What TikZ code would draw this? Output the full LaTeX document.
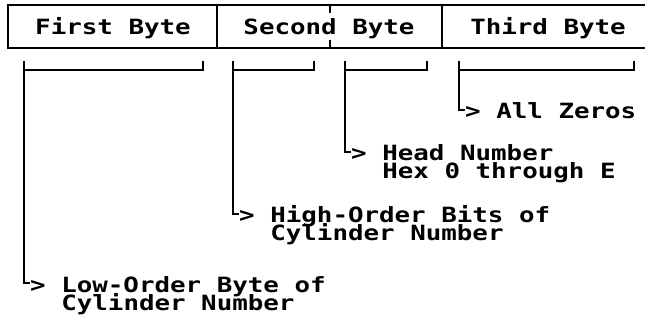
\documentclass[tikz,border=0pt]{standalone}
\usepackage{fontspec}
\newfontfamily\scrfont[FakeStretch=1.23]{DejaVu Sans Mono}
\newcommand\mytightlines{\lineskiplimit=-30pt\relax\lineskip=0pt\relax}
\begin{document}
\begin{tikzpicture}[x=1pt,y=-1pt,
  ln/.style={line width=1.8pt},
  txt/.style={font=\scrfont\bfseries\fontsize{21}{18}\selectfont\mytightlines, inner sep=0pt, align=left},
]
\useasboundingbox (0,0) rectangle (645,320);
% field box
\draw[ln] (646,5) -- (8,5) -- (8,48) -- (646,48);
\draw[ln] (217,5) -- (217,48);
\draw[ln] (442,5) -- (442,48);
\draw[ln] (330,5) -- (330,13);
\draw[ln] (330,40) -- (330,48);
\node[txt, anchor=base] (f1) at (113,35) {First Byte};
\node[txt, anchor=base] (f2) at (329,35) {Second Byte};
\node[txt, anchor=base] (f3) at (548,35) {Third Byte};
% brackets
\coordinate (a1) at (24,61);  \coordinate (r1) at (203,61);
\coordinate (a2) at (233,61); \coordinate (r2) at (314,61);
\coordinate (a3) at (345,61); \coordinate (r3) at (427,61);
\coordinate (a4) at (459,61); \coordinate (r4) at (634,61);
\foreach \i in {1,2,3,4} {
  \draw[ln] (r\i) -- ++(0,9) -| (a\i);
}
% leg ends
\coordinate (e1) at (30,283);
\coordinate (e2) at (239,214);
\coordinate (e3) at (351,152);
\coordinate (e4) at (465,110);
\foreach \i in {1,2,3,4} {
  \draw[ln] (a\i) |- (e\i);
}
% labels
\node[txt, anchor=base west] (l4) at ([yshift=-9pt]e4) {> All Zeros};
\node[txt, anchor=base west] (l3) at ([yshift=-27pt]e3) {> Head Number\\\phantom{> }Hex 0 through E};
\node[txt, anchor=base west] (l2) at ([yshift=-27pt]e2) {> High-Order Bits of\\\phantom{> }Cylinder Number};
\node[txt, anchor=base west] (l1) at ([yshift=-27pt]e1) {> Low-Order Byte of\\\phantom{> }Cylinder Number};
\end{tikzpicture}
\end{document}
